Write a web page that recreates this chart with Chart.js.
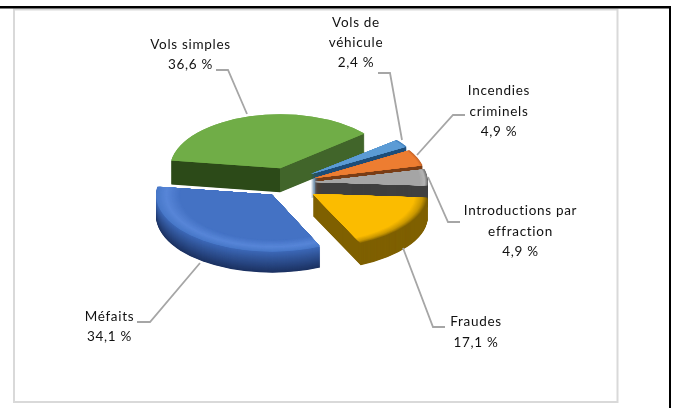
<!DOCTYPE html>
<html><head><meta charset="utf-8">
<style>html,body{margin:0;padding:0;background:#fff}canvas{display:block}</style>
<script src="https://cdn.jsdelivr.net/npm/chart.js@4"></script>
</head><body><canvas id="c" width="675" height="408"></canvas>
<script>
// Data
const categories = ["Vols de véhicule","Incendies criminels","Introductions par effraction","Fraudes","Méfaits","Vols simples"];
const categoryLines = [["Vols de","véhicule"],["Incendies","criminels"],["Introductions par","effraction"],["Fraudes"],["Méfaits"],["Vols simples"]];
const values = [2.4,4.9,4.9,17.1,34.1,36.6];
const colors = ["#5b9bd5","#ed7d31","#a5a5a5","#fbbc00","#4472c4","#70ad47"];

// 3D look, per slice
const explode = [29.5,30,28,31.6,25,25];
const squash  = [.47,.48,.47,.47,.49,.49];
const lift    = [2,3.5,3,5.6,5,0];
const radii   = [112,111,113,115,116,110];
const depths  = [24,24,22,22,21,24];
const sideTop = ["#1f4e79","#7a3e17","#404040","#7f6000","#3d69b8","#2c4a18"];
const sideBot = ["#1f4e79","#7a3e17","#404040","#7f6000","#1c3262","#2c4a18"];
const sideRight = [null,null,null,null,null,"#41652a"];
const bevels = [
  [[0,"#3f7fbd"],[3,"#5b9bd5"]],
  [[0,"#c9662a"],[3,"#ed7d31"]],
  [[0,"#6f6f6f"],[3,"#b4b4b4"],[8,"#a5a5a5"]],
  [[0,"#7f6000"],[5,"#c99700"],[13,"#fbbc00"]],
  [[0,"#4878c8"],[10,"#5886d8"],[24,"#4472c4"]],
  [[0,"#70ad47"]]
];
const drawOrder = [5,0,1,2,3,4];

// Label layout: x, y of first line, leader polyline
const labelLayout = [
  {x:356,y:23,gap:20,lead:[[378,73],[390,73],[402,140]]},
  {x:499,y:91,gap:20.5,lead:[[465,115],[453,115],[417,155]]},
  {x:520.5,y:211,gap:20.5,lead:[[460,222],[448,222],[428,177]]},
  {x:476,y:322,gap:21,lead:[[445,327],[433,327],[403,248]]},
  {x:109.5,y:317,gap:20,lead:[[137,322],[150,322],[200,263]]},
  {x:190.5,y:45,gap:20,lead:[[216,70],[228,70],[247,114]]}
];

function hex(c){return [1,3,5].map(i=>parseInt(c.substr(i,2),16));}
function mix(a,b,t){const A=hex(a),B=hex(b);return "rgb("+A.map((v,i)=>Math.round(v+(B[i]-v)*t)).join(",")+")";}
function stopColor(stops,d){
  for(let i=1;i<stops.length;i++){
    if(d<=stops[i][0]){const s=stops[i-1],e=stops[i];return mix(s[1],e[1],(d-s[0])/(e[0]-s[0]));}
  }
  return stops[stops.length-1][1];
}

const pie3d = {
  id:"pie3d",
  beforeDraw(chart){
    const c=chart.ctx;
    c.save();
    c.fillStyle="#fff";c.fillRect(0,0,675,408);
    c.strokeStyle="#d9d9d9";c.lineWidth=2;c.strokeRect(14,9.5,603.5,392.5);
    c.fillStyle="#000";c.fillRect(0,6,671,2.5);c.fillRect(669,6,2,402);
    c.restore();
  },
  beforeDatasetsDraw(chart){
    const c=chart.ctx, meta=chart.getDatasetMeta(0);
    function slice(i,shift,color,R){
      const arc=meta.data[i], o=arc.options, r0=arc.outerRadius, mid=(arc.startAngle+arc.endAngle)/2;
      c.save();
      c.translate(0,arc.y+lift[i]+shift);
      c.scale(1,squash[i]);
      c.translate(0,-arc.y);
      c.translate(Math.cos(mid)*explode[i],Math.sin(mid)*explode[i]);
      arc.outerRadius=Math.max(R,1);
      arc.options=Object.assign({},o,{backgroundColor:color});
      arc.draw(c);
      arc.options=o;arc.outerRadius=r0;
      c.restore();
    }
    drawOrder.forEach(i=>{
      const arc=meta.data[i], R=radii[i], dp=depths[i];
      for(let k=dp;k>=1;k-=.5){
        const t=k/dp;
        let col=mix(sideTop[i],sideBot[i],t);
        if(sideRight[i]){
          const g=c.createLinearGradient(arc.x-200,0,arc.x+200,0);
          g.addColorStop(0,col);g.addColorStop(.5,col);g.addColorStop(.5,sideRight[i]);g.addColorStop(1,sideRight[i]);
          col=g;
        }
        slice(i,k,col,R);
      }
      const st=bevels[i], w=st[st.length-1][0];
      for(let d=0;d<=w;d+=.5) slice(i,0,stopColor(st,d),R-d);
      slice(i,0,colors[i],R-w);
    });
    return false;
  },
  afterDraw(chart){
    const c=chart.ctx;
    c.save();
    c.strokeStyle="#a6a6a6";c.lineWidth=1.8;
    labelLayout.forEach(l=>{
      c.beginPath();
      l.lead.forEach((p,j)=>j?c.lineTo(p[0],p[1]):c.moveTo(p[0],p[1]));
      c.stroke();
    });
    c.fillStyle="#111";c.textAlign="center";c.textBaseline="middle";
    c.font="13.5px Lato";c.letterSpacing="0.7px";
    labelLayout.forEach((l,i)=>{
      const lines=categoryLines[i].concat([values[i].toFixed(1).replace(".",",")+" %"]);
      lines.forEach((t,j)=>c.fillText(t,l.x,l.y+j*l.gap));
    });
    c.restore();
  }
};

new Chart(document.getElementById("c"),{
  type:"pie",
  data:{labels:categories,datasets:[{data:values,backgroundColor:colors,borderWidth:0}]},
  options:{
    responsive:false,animation:false,events:[],rotation:50,radius:90,
    layout:{padding:{right:101,bottom:48}},
    plugins:{legend:{display:false},tooltip:{enabled:false},title:{display:false}}
  },
  plugins:[pie3d]
});
</script></body></html>
